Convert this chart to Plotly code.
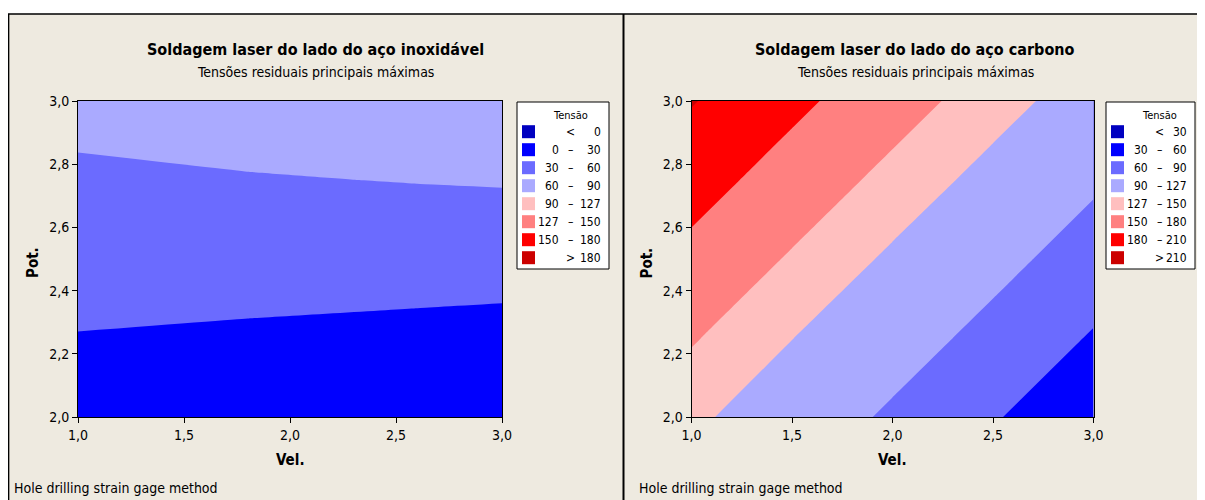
import plotly.graph_objects as go

# ---------------- data ----------------
vel_left = [1.0, 1.8, 2.6, 3.0]
pot_left = [2.0, 2.25, 2.5, 2.75, 3.0]
tensao_left = [
    [15.7, 9.8, 3.8, 1.0],
    [28.9, 26.0, 22.8, 21.0],
    [42.1, 42.2, 41.9, 41.5],
    [55.4, 58.3, 60.9, 62.0],
    [68.6, 74.5, 79.9, 82.5],
]
levels_left = [0, 30, 60, 90, 127, 150, 180]

vel_right = [1.0, 1.5, 2.0, 2.5, 3.0]
pot_right = [2.0, 2.25, 2.5, 2.75, 3.0]
tensao_right = [
    [132.6, 108.8, 85.4, 62.3, 39.3],
    [152.4, 127.5, 104.0, 80.7, 57.6],
    [172.1, 147.3, 122.7, 99.3, 76.0],
    [191.9, 167.1, 142.3, 118.0, 94.5],
    [211.6, 186.8, 162.1, 137.3, 113.2],
]
levels_right = [30, 60, 90, 127, 150, 180, 210]

band_colors = ["#0000C0", "#0000FF", "#6B6BFF", "#AAAAFF",
               "#FFBFBF", "#FF8080", "#FF0000", "#CC0000"]

titles = ["Soldagem laser do lado do aço inoxidável",
          "Soldagem laser do lado do aço carbono"]
subtitle = "Tensões residuais principais máximas"
footnote = "Hole drilling strain gage method"
x_ticks = [1.0, 1.5, 2.0, 2.5, 3.0]
y_ticks = [2.0, 2.2, 2.4, 2.6, 2.8, 3.0]

# ---------------- layout helpers ----------------
OFF = 8                      # page body margin in the browser
W, H = 1205 - OFF, 500 - OFF  # figure size so it fits the window
BG = "#EEEAE0"
FONT = "DejaVu Sans Condensed, Liberation Sans Narrow, sans-serif"


def px(x):
    """page pixel x -> paper coordinate"""
    return (x - OFF) / W


def py(y):
    """page pixel y -> paper coordinate"""
    return 1 - (y - OFF) / H


fig = go.Figure()

panels = [
    dict(xa="x", ya="y", vel=vel_left, pot=pot_left, z=tensao_left,
         levels=levels_left, plot=(78, 502), center=315, leg=517, legw=92),
    dict(xa="x2", ya="y2", vel=vel_right, pot=pot_right, z=tensao_right,
         levels=levels_right, plot=(691.5, 1093.5), center=915, leg=1106, legw=89),
]

for p in panels:
    # base layer: whole area in the lowest band colour
    fig.add_trace(go.Contour(
        x=p["vel"], y=p["pot"], z=p["z"],
        contours=dict(type="constraint", operation="<", value=-1e6),
        fillcolor=band_colors[0], line=dict(width=0, color=band_colors[0], smoothing=0),
        showlegend=False, hoverinfo="skip",
        xaxis=p["xa"], yaxis=p["ya"]))
    # each threshold shades the region z >= threshold
    for thr, col in zip(p["levels"], band_colors[1:]):
        fig.add_trace(go.Contour(
            x=p["vel"], y=p["pot"], z=p["z"],
            contours=dict(type="constraint", operation="<", value=thr),
            fillcolor=col, line=dict(width=0, color=col, smoothing=0),
            showlegend=False, hoverinfo="skip",
            xaxis=p["xa"], yaxis=p["ya"]))

shapes = []
annotations = []

# panel background and frame
shapes.append(dict(type="rect", xref="paper", yref="paper",
                   x0=0.0005, x1=1.01, y0=-0.01, y1=py(14),
                   fillcolor=BG, line=dict(color="black", width=1.5),
                   layer="below"))
shapes.append(dict(type="line", xref="paper", yref="paper",
                   x0=px(623.5), x1=px(623.5), y0=py(14), y1=0,
                   line=dict(color="black", width=2), layer="below"))

for i, p in enumerate(panels):
    # titles
    annotations.append(dict(text="<b>" + titles[i] + "</b>", x=px(p["center"]),
                            y=py(49), xref="paper", yref="paper",
                            showarrow=False, xanchor="center", yanchor="middle",
                            font=dict(size=16, color="black", family=FONT)))
    annotations.append(dict(text=subtitle, x=px(p["center"]), y=py(72),
                            xref="paper", yref="paper", showarrow=False,
                            xanchor="center", yanchor="middle",
                            font=dict(size=14, color="black", family=FONT)))
    annotations.append(dict(text=footnote, x=px(12 if i == 0 else 637), y=py(488),
                            xref="paper", yref="paper", showarrow=False,
                            xanchor="left", yanchor="middle",
                            font=dict(size=14, color="black", family=FONT)))
    # legend box
    L = p["leg"]
    LW = p["legw"]
    shapes.append(dict(type="rect", xref="paper", yref="paper",
                       x0=px(L), x1=px(L + LW), y0=py(269), y1=py(102),
                       fillcolor="white", line=dict(color="black", width=1)))
    annotations.append(dict(text="Tensão", x=px(L + 53), y=py(116),
                            xref="paper", yref="paper", showarrow=False,
                            xanchor="center", yanchor="middle",
                            font=dict(size=11, color="black", family=FONT)))
    lv = p["levels"]
    labels = [("", "<", str(lv[0]))]
    for a, b in zip(lv[:-1], lv[1:]):
        labels.append((str(a), "–", str(b)))
    labels.append(("", ">", str(lv[-1])))
    for k, (lft, mid, rgt) in enumerate(labels):
        yc = 131.7 + 18 * k
        shapes.append(dict(type="rect", xref="paper", yref="paper",
                           x0=px(L + 5), x1=px(L + 18),
                           y0=py(yc + 6.5), y1=py(yc - 6.5),
                           fillcolor=band_colors[k], line=dict(width=0)))
        if lft:
            annotations.append(dict(text=lft, x=px(L + 44), y=py(yc),
                                    xref="paper", yref="paper", showarrow=False,
                                    xanchor="right", yanchor="middle",
                                    font=dict(size=12, color="black", family=FONT)))
        annotations.append(dict(text=mid, x=px(L + 53), y=py(yc),
                                xref="paper", yref="paper", showarrow=False,
                                xanchor="center", yanchor="middle",
                                font=dict(size=12, color="black", family=FONT)))
        annotations.append(dict(text=rgt, x=px(L + LW - 6), y=py(yc),
                                xref="paper", yref="paper", showarrow=False,
                                xanchor="right", yanchor="middle",
                                font=dict(size=12, color="black", family=FONT)))
    # axis labels
    xc = (p["plot"][0] + p["plot"][1]) / 2
    annotations.append(dict(text="<b>Vel.</b>", x=px(xc), y=py(460),
                            xref="paper", yref="paper", showarrow=False,
                            xanchor="center", yanchor="middle",
                            font=dict(size=15, color="black", family=FONT)))
    annotations.append(dict(text="<b>Pot.</b>", x=px(p["plot"][0] - 45), y=py(263),
                            xref="paper", yref="paper", showarrow=False,
                            textangle=-90, xanchor="center", yanchor="middle",
                            font=dict(size=15, color="black", family=FONT)))

axis_common = dict(showgrid=False, zeroline=False, showline=True, mirror=True,
                   linecolor="black", linewidth=1, ticks="outside", ticklen=5,
                   tickcolor="black", automargin=False,
                   tickfont=dict(size=14, color="black", family=FONT),
                   tickformat=".1f")

fig.update_layout(
    width=W, height=H,
    margin=dict(l=0, r=0, t=0, b=0, pad=0, autoexpand=False),
    paper_bgcolor="white", plot_bgcolor=band_colors[0],
    separators=", ",
    showlegend=False,
    xaxis=dict(domain=[px(78), px(502)], range=[1, 3], tickvals=x_ticks,
               anchor="y", **axis_common),
    yaxis=dict(domain=[py(417), py(101)], range=[2, 3], tickvals=y_ticks,
               anchor="x", **axis_common),
    xaxis2=dict(domain=[px(691.5), px(1093.5)], range=[1, 3], tickvals=x_ticks,
                anchor="y2", **axis_common),
    yaxis2=dict(domain=[py(417), py(101)], range=[2, 3], tickvals=y_ticks,
                anchor="x2", **axis_common),
    shapes=shapes, annotations=annotations,
)

fig.write_html("out.html")
